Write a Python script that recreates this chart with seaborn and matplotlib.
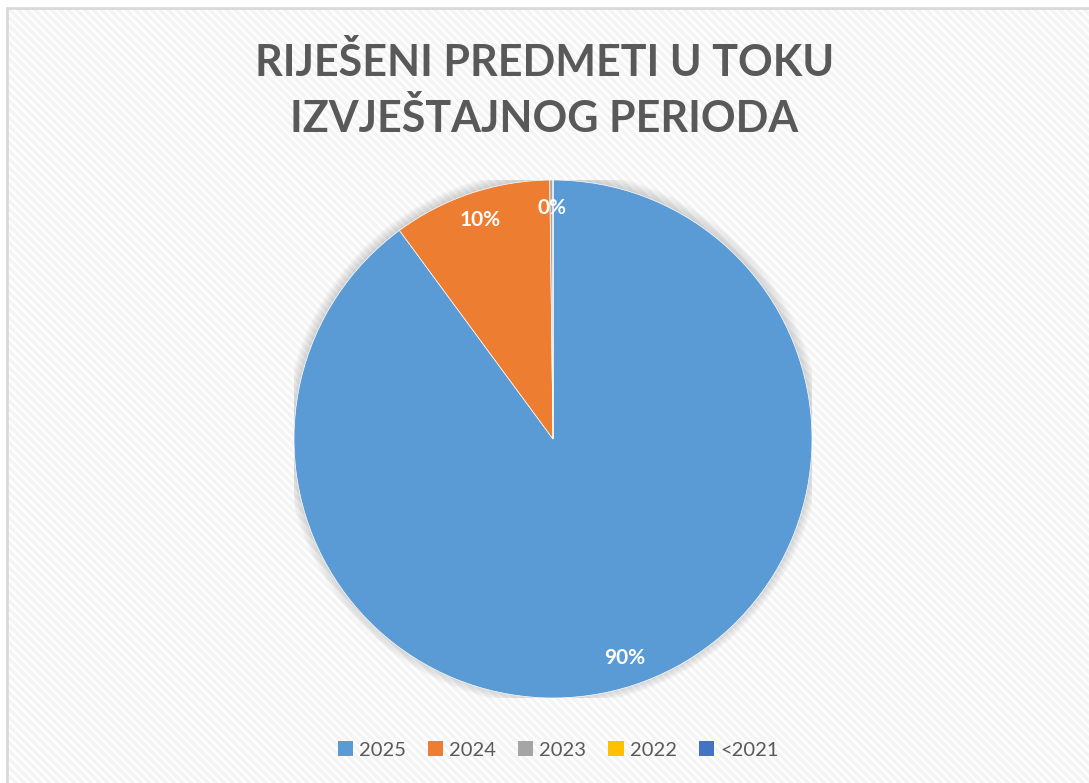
import matplotlib
matplotlib.use("Agg")
import matplotlib.pyplot as plt
import seaborn as sns
from matplotlib.patches import Rectangle, Circle, Patch

# data
years = ["2025", "2024", "2023", "2022", "<2021"]
shares = [89.9, 9.9, 0.2, 0.0, 0.0]
colors = ["#5B9BD5", "#ED7D31", "#A5A5A5", "#FFC000", "#4472C4"]
title_lines = ["RIJEŠENI PREDMETI U TOKU", "IZVJEŠTAJNOG PERIODA"]

sns.set_theme(style="white")
sns.set_palette(colors)
plt.rcParams['font.family'] = ['Lato', 'DejaVu Sans']
plt.rcParams['hatch.linewidth'] = 2.5

W, H = 1089, 783
fig = plt.figure(figsize=(W / 100, H / 100), dpi=100)

# striped chart background + border
bg = Rectangle((7 / W, 0), 1.2, 1 - 8 / H, transform=fig.transFigure,
               facecolor="white", edgecolor="#f4f4f4", hatch="\\\\\\\\", lw=0, zorder=0)
fig.add_artist(bg)
border = Rectangle((7 / W, -0.1), 1.2, 1.1 - 8 / H, transform=fig.transFigure,
                   facecolor="none", edgecolor="#d9d9d9", lw=2, zorder=1)
fig.add_artist(border)

# pie axes: center (553, 439), radius 259 px
cx, cy, r = 553, 439, 259
ax = fig.add_axes([(cx - r) / W, (H - cy - r) / H, 2 * r / W, 2 * r / H])

# soft shadow around the pie
for i in range(10):
    ax.add_patch(Circle((0, 0.005), 1.0 + 0.004 * i, color="#7f7f7f",
                        alpha=0.035, lw=0, zorder=0))

def pct_label(p):
    return f"{p:.0f}%" if p > 0.05 else ""

wedges, texts, autotexts = ax.pie(
    shares, colors=colors, startangle=90, counterclock=False, radius=1,
    autopct=pct_label, pctdistance=0.89,
    wedgeprops=dict(linewidth=0.5, edgecolor="white"),
    textprops=dict(color="white", fontsize=15, fontweight="bold"),
)
for w in wedges:
    w.set_zorder(2)
ax.set_xlim(-1, 1)
ax.set_ylim(-1, 1)
ax.axis("off")

# title
for line, yy in zip(title_lines, [62, 118]):
    fig.text(0.5, 1 - yy / H, line, ha="center", va="center", fontsize=31,
             fontweight="bold", color="#595959")

handles = [Patch(facecolor=c, edgecolor="none", label=y) for y, c in zip(years, colors)]
leg = fig.legend(handles=handles, loc="center", bbox_to_anchor=(558 / W, 1 - 750 / H),
                 ncol=5, frameon=False, fontsize=14.5, handlelength=0.75, handleheight=0.75,
                 handletextpad=0.3, columnspacing=1.1)
for t in leg.get_texts():
    t.set_color("#595959")

fig.savefig("out.png", dpi=100)
